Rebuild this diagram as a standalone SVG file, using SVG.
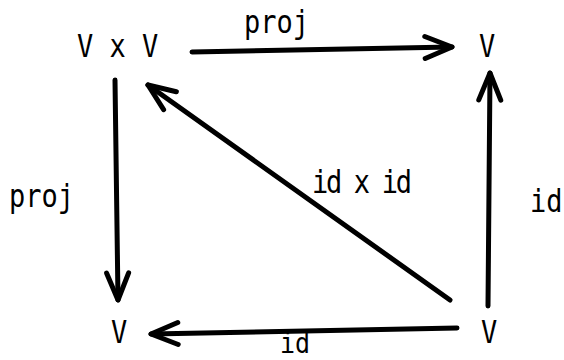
<svg xmlns="http://www.w3.org/2000/svg" width="564" height="360" viewBox="0 0 564 360">
<style>
text{font-family:"DejaVu Sans Mono","Liberation Mono",monospace;font-size:27px;fill:#000}
.e{fill:none;stroke:#000;stroke-width:5;stroke-linecap:round}
.h{fill:none;stroke:#000;stroke-width:5;stroke-linecap:round;stroke-linejoin:round}
</style>
<defs>
<marker id="ah" markerUnits="userSpaceOnUse" markerWidth="50" markerHeight="40" viewBox="-40 -20 50 40" refX="0" refY="0" orient="auto" overflow="visible">
<path class="h" d="M-27,-11 L0,0 L-27,11"/>
</marker>
</defs>
<rect width="564" height="360" fill="#fff"/>
<g id="connectors">
<path class="e" d="M192,52 L452,47" marker-end="url(#ah)"/>
<path class="e" d="M115,80 L118,300" marker-end="url(#ah)"/>
<path class="e" d="M488,306 L490,73" marker-end="url(#ah)"/>
<path class="e" d="M457,328 L151,334" marker-end="url(#ah)"/>
<path class="e" d="M450,300 L148,85" stroke-width="6" marker-end="url(#ah)"/>
<g id="edge-labels">
<text transform="translate(244,33) scale(1,1.2)">proj</text>
<text transform="translate(9,207) scale(1,1.2)">proj</text>
<text transform="translate(312,193) scale(1,1.2)" textLength="100" lengthAdjust="spacing">id x id</text>
<text transform="translate(530,212) scale(1,1.2)">id</text>
<text transform="translate(280,353) scale(1,1.1)" style="font-size:25px">id</text>
</g>
</g>
<g id="node-VxV"><text transform="translate(77,57) scale(1,1.2)">V x V</text></g>
<g id="node-V-top"><text transform="translate(479,57) scale(1,1.2)">V</text></g>
<g id="node-V-bottom-left"><text transform="translate(111,343) scale(1,1.2)">V</text></g>
<g id="node-V-bottom-right"><text transform="translate(481,343) scale(1,1.2)">V</text></g>
</svg>
